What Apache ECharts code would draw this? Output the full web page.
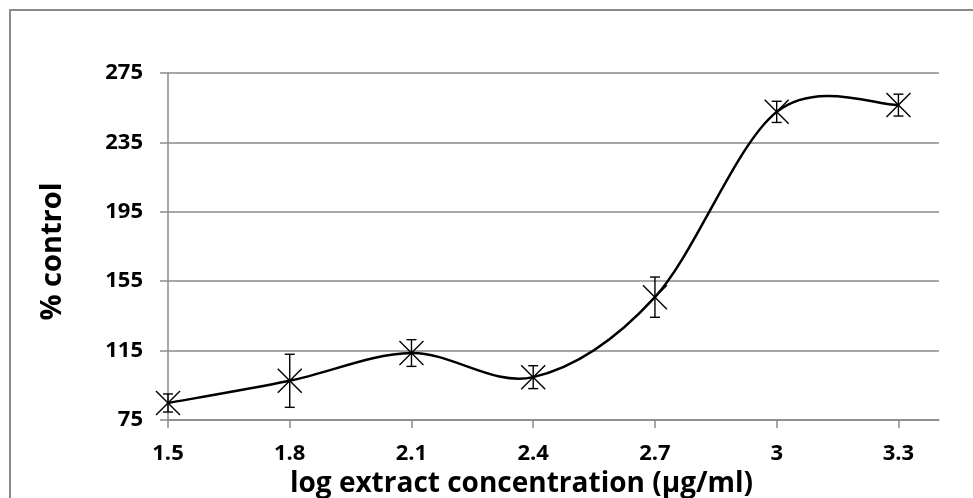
<!DOCTYPE html>
<html lang="en">
<head>
    <meta charset="UTF-8">
    <title>% control</title>
    <script src="https://cdn.jsdelivr.net/npm/echarts@6/dist/echarts.min.js"></script>
    <style>
        html, body { margin: 0; padding: 0; background: #fff; }
        #chart { width: 973px; height: 498px; }
    </style>
</head>
<body>
<div id="chart"></div>
<script>
    // data --------------------------
    var xValues = [1.5, 1.8, 2.1, 2.4, 2.7, 3.0, 3.3];
    var yValues = [84.8, 97.6, 113.6, 99.7, 145.8, 252.6, 256.5];
    var yErrors = [5.2, 15.3, 7.7, 6.6, 11.6, 6.1, 6.3];
    var xTicks = [1.5, 1.8, 2.1, 2.4, 2.7, 3, 3.3];

    var bars = [];
    for (var i = 0; i < xValues.length; i++) {
        bars.push([xValues[i], yValues[i], yErrors[i]]);
    }

    var font = 'Open Sans';
    var gray = '#8a8a8a';
    var n = xValues.length;

    function pt(api, k) {
        k = Math.max(0, Math.min(n - 1, k));
        return api.coord([xValues[k], yValues[k]]);
    }

    // smoothed segment i -> i+1 (excel-like, catmull-rom 1/6)
    function renderCurve(params, api) {
        var i = params.dataIndex;
        if (i >= n - 1) return null;
        var p0 = pt(api, i - 1), p1 = pt(api, i), p2 = pt(api, i + 1), p3 = pt(api, i + 2);
        return {
            type: 'bezierCurve',
            shape: {
                x1: p1[0], y1: p1[1],
                cpx1: p1[0] + (p2[0] - p0[0]) / 6, cpy1: p1[1] + (p2[1] - p0[1]) / 6,
                cpx2: p2[0] - (p3[0] - p1[0]) / 6, cpy2: p2[1] - (p3[1] - p1[1]) / 6,
                x2: p2[0], y2: p2[1]
            },
            style: {stroke: '#000', lineWidth: 2.5, fill: null}
        };
    }

    // star marker + error bar
    function renderStar(params, api) {
        var x = api.value(0), y = api.value(1), e = api.value(2);
        var c = api.coord([x, y]);
        var top = api.coord([x, y + e]);
        var bot = api.coord([x, y - e]);
        var s = 12, cap = 5;
        var st = {stroke: '#000', lineWidth: 1.4, fill: null};
        return {
            type: 'group',
            children: [
                {type: 'line', shape: {x1: c[0] - s, y1: c[1] - s, x2: c[0] + s, y2: c[1] + s}, style: st},
                {type: 'line', shape: {x1: c[0] - s, y1: c[1] + s, x2: c[0] + s, y2: c[1] - s}, style: st},
                {type: 'line', shape: {x1: c[0], y1: top[1], x2: c[0], y2: bot[1]}, style: st},
                {type: 'line', shape: {x1: c[0] - cap, y1: top[1], x2: c[0] + cap, y2: top[1]}, style: st},
                {type: 'line', shape: {x1: c[0] - cap, y1: bot[1], x2: c[0] + cap, y2: bot[1]}, style: st}
            ]
        };
    }

    var chart = echarts.init(document.getElementById('chart'));
    var option = {
        animation: false,
        backgroundColor: '#fff',
        graphic: [{
            type: 'rect',
            shape: {x: 10, y: 10, width: 1000, height: 600},
            style: {fill: null, stroke: gray, lineWidth: 2}
        }],
        grid: {left: 168, right: 34, top: 73, bottom: 78, outerBoundsMode: 'none'},
        xAxis: {
            type: 'value',
            min: 1.5,
            max: 3.4,
            interval: 0.3,
            name: 'log extract concentration (\u00b5g/ml)',
            nameLocation: 'middle',
            nameGap: 49,
            nameTextStyle: {fontFamily: font, fontWeight: 'bold', fontSize: 28, color: '#000', padding: [0, 64, 0, 0]},
            axisLine: {show: true, onZero: false, lineStyle: {color: gray, width: 1.5}},
            axisTick: {show: true, length: 8, customValues: xTicks, lineStyle: {color: gray, width: 1.5}},
            axisLabel: {
                customValues: xTicks,
                margin: 23,
                fontFamily: font, fontWeight: 'bold', fontSize: 22, color: '#000'
            },
            splitLine: {show: false}
        },
        yAxis: {
            type: 'value',
            min: 75,
            max: 275,
            interval: 40,
            name: '% control',
            nameLocation: 'middle',
            nameRotate: 90,
            nameGap: 101,
            nameTextStyle: {fontFamily: font, fontWeight: 'bold', fontSize: 29, color: '#000', padding: [0, 10, 0, 0]},
            axisLine: {show: true, lineStyle: {color: gray, width: 1.5}},
            axisTick: {show: true, length: 8, lineStyle: {color: gray, width: 1.5}},
            axisLabel: {margin: 25, fontFamily: font, fontWeight: 'bold', fontSize: 22, color: '#000'},
            splitLine: {show: true, lineStyle: {color: gray, width: 1.5}}
        },
        series: [
            {
                type: 'custom',
                data: bars,
                renderItem: renderCurve,
                z: 2
            },
            {
                type: 'custom',
                data: bars,
                renderItem: renderStar,
                z: 3
            }
        ]
    };
    chart.setOption(option);
</script>
</body>
</html>
